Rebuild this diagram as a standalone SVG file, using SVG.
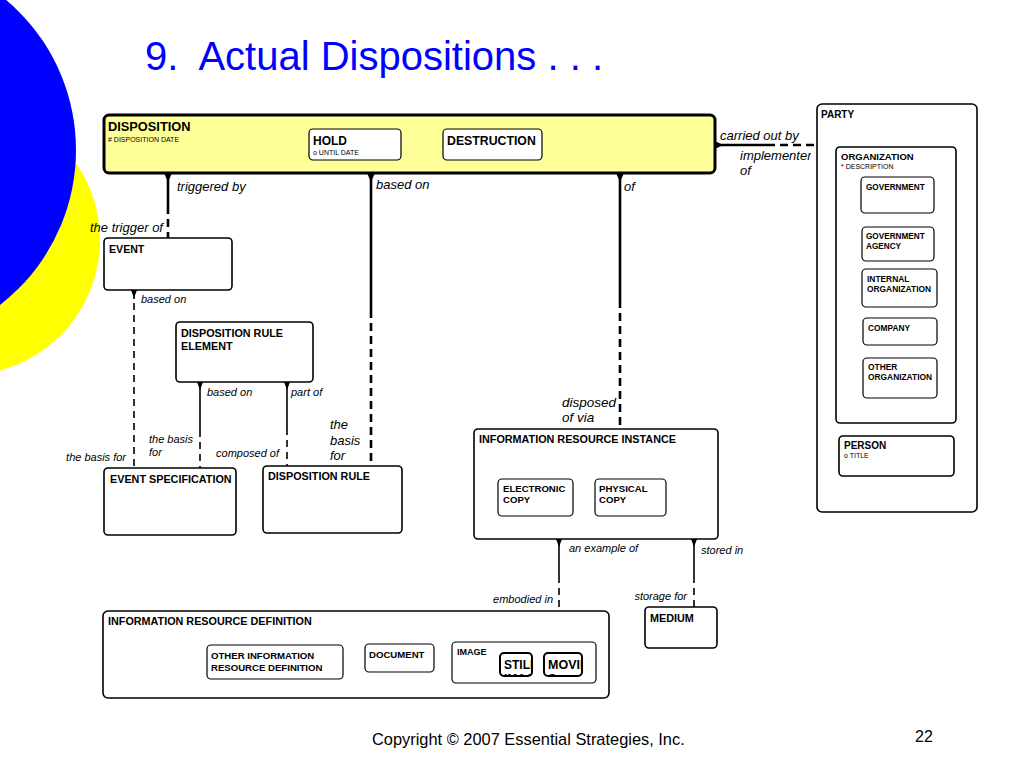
<svg xmlns="http://www.w3.org/2000/svg" width="1024" height="768" viewBox="0 0 1024 768">
<defs>
<style>
.ent{fill:#fff;stroke:#000;stroke-width:1.6}
.sub{fill:#fff;stroke:#000;stroke-width:1.2}
.b{font-family:"Liberation Sans",Arial,sans-serif;font-weight:bold;fill:#000}
.a{font-family:"Liberation Sans",Arial,sans-serif;fill:#000;font-size:7px}
.i{font-family:"Liberation Sans",Arial,sans-serif;font-style:italic;fill:#000}
.s{stroke:#000;fill:none}
.thk{stroke-width:2.6}
.thn{stroke-width:1.6}
.d1{stroke-dasharray:8 5}
.d2{stroke-dasharray:7 5}
.cf{fill:#000}
</style>
<clipPath id="cpStill"><rect x="501" y="654" width="30" height="21"/></clipPath>
<clipPath id="cpMovie"><rect x="545" y="654" width="36" height="21"/></clipPath>
<clipPath id="cpImpl"><rect x="730" y="148" width="81" height="40"/></clipPath>
</defs>
<rect width="1024" height="768" fill="#fff"/>
<!-- decoration -->
<circle cx="-35" cy="240" r="135" fill="#ffff00"/>
<circle cx="-120" cy="150" r="196" fill="#0000ff"/>
<text x="145" y="70" font-family="Liberation Sans,Arial,sans-serif" font-size="40" fill="#0000ff" xml:space="preserve">9.  Actual Dispositions . . .</text>

<!-- connectors -->
<g id="connectors">
<!-- disposition - party -->
<polygon class="cf" points="715,141 715,149 723,145"/>
<line class="s thk" x1="715" y1="145" x2="767" y2="145"/>
<line class="s thk d1" x1="767" y1="145" x2="817" y2="145"/>
<text class="i" x="720" y="140" font-size="13">carried out by</text>
<text class="i" x="740" y="160" font-size="13" clip-path="url(#cpImpl)">implementer</text>
<text class="i" x="740" y="175" font-size="13">of</text>
<!-- triggered by -->
<polygon class="cf" points="164,173 172,173 168,182"/>
<line class="s thk" x1="168" y1="173" x2="168" y2="206"/>
<line class="s thk d1" x1="168" y1="206" x2="168" y2="238"/>
<text class="i" x="177" y="191" font-size="13">triggered by</text>
<text class="i" x="163" y="232" font-size="13" text-anchor="end">the trigger of</text>
<!-- event based on event spec -->
<polygon class="cf" points="131,290 137,290 134,298"/>
<line class="s thn" x1="134" y1="290" x2="134" y2="299"/>
<line class="s thn d2" x1="134" y1="303" x2="134" y2="468"/>
<text class="i" x="141" y="303" font-size="11">based on</text>
<text class="i" x="126" y="461" font-size="11" text-anchor="end">the basis for</text>
<!-- DRE based on event spec -->
<polygon class="cf" points="197,382 203,382 200,390"/>
<line class="s thn" x1="200" y1="382" x2="200" y2="430"/>
<line class="s thn d2" x1="200" y1="430" x2="200" y2="468"/>
<text class="i" x="207" y="396" font-size="11">based on</text>
<text class="i" x="149" y="443" font-size="11">the basis</text>
<text class="i" x="149" y="456" font-size="11">for</text>
<!-- DRE part of disposition rule -->
<polygon class="cf" points="284,382 290,382 287,390"/>
<line class="s thn" x1="287" y1="382" x2="287" y2="428"/>
<line class="s thn d2" x1="287" y1="428" x2="287" y2="466"/>
<text class="i" x="291" y="396" font-size="11">part of</text>
<text class="i" x="279" y="457" font-size="11" text-anchor="end">composed of</text>
<!-- disposition based on disposition rule -->
<polygon class="cf" points="367,173 375,173 371,182"/>
<line class="s thk" x1="371" y1="173" x2="371" y2="310"/>
<line class="s thk d1" x1="371" y1="310" x2="371" y2="466"/>
<text class="i" x="376" y="189" font-size="13">based on</text>
<text class="i" x="330" y="429" font-size="13">the</text>
<text class="i" x="330" y="445" font-size="13">basis</text>
<text class="i" x="330" y="460" font-size="13">for</text>
<!-- disposition of IRI -->
<polygon class="cf" points="616,173 624,173 620,182"/>
<line class="s thk" x1="620" y1="173" x2="620" y2="300"/>
<line class="s thk d1" x1="620" y1="300" x2="620" y2="429"/>
<text class="i" x="624" y="191" font-size="13">of</text>
<text class="i" x="562" y="407" font-size="13.5">disposed</text>
<text class="i" x="562" y="422" font-size="13.5">of via</text>
<!-- IRI example of IRD -->
<polygon class="cf" points="556,539 562,539 559,547"/>
<line class="s thn" x1="559" y1="539" x2="559" y2="576"/>
<line class="s thn d2" x1="559" y1="576" x2="559" y2="611"/>
<text class="i" x="569" y="552" font-size="11">an example of</text>
<text class="i" x="553" y="603" font-size="11" text-anchor="end">embodied in</text>
<!-- IRI stored in medium -->
<polygon class="cf" points="691,539 697,539 694,547"/>
<line class="s thn" x1="694" y1="539" x2="694" y2="576"/>
<line class="s thn d2" x1="694" y1="576" x2="694" y2="607"/>
<text class="i" x="701" y="554" font-size="11">stored in</text>
<text class="i" x="687" y="600" font-size="11" text-anchor="end">storage for</text>
</g>

<!-- DISPOSITION -->
<g id="disposition">
<rect x="104" y="115" width="611" height="58" rx="5" fill="#ffff99" stroke="#000" stroke-width="3"/>
<text class="b" x="108" y="131" font-size="12.8">DISPOSITION</text>
<text class="a" x="108" y="142" font-size="6.5">#  DISPOSITION DATE</text>
</g>
<g id="hold">
<rect class="sub" x="309" y="129" width="92" height="31" rx="4"/>
<text class="b" x="313" y="145" font-size="12">HOLD</text>
<text class="a" x="313" y="155" font-size="6.5">o  UNTIL DATE</text>
</g>
<g id="destruction">
<rect class="sub" x="443" y="129" width="99" height="31" rx="4"/>
<text class="b" x="447" y="145" font-size="12.3">DESTRUCTION</text>
</g>

<!-- PARTY -->
<g id="party">
<rect class="ent" x="817" y="104" width="160" height="408" rx="5"/>
<text class="b" x="821" y="118" font-size="10">PARTY</text>
</g>
<g id="organization">
<rect class="ent" x="836" y="147" width="120" height="276" rx="4"/>
<text class="b" x="841" y="160" font-size="9.5">ORGANIZATION</text>
<text class="a" x="841" y="169" font-size="6.5">*  DESCRIPTION</text>
</g>
<g id="government">
<rect class="sub" x="861" y="177" width="73" height="36" rx="4"/>
<text class="b" x="866" y="190" font-size="8.2">GOVERNMENT</text>
</g>
<g id="government-agency">
<rect class="sub" x="862" y="227" width="72" height="34" rx="4"/>
<text class="b" x="866" y="239" font-size="8.2">GOVERNMENT</text>
<text class="b" x="866" y="249" font-size="8.2">AGENCY</text>
</g>
<g id="internal-organization">
<rect class="sub" x="862" y="269" width="75" height="38" rx="4"/>
<text class="b" x="867" y="282" font-size="8.4">INTERNAL</text>
<text class="b" x="867" y="292" font-size="8.4">ORGANIZATION</text>
</g>
<g id="company">
<rect class="sub" x="863" y="318" width="74" height="27" rx="4"/>
<text class="b" x="868" y="331" font-size="8.4">COMPANY</text>
</g>
<g id="other-organization">
<rect class="sub" x="863" y="358" width="74" height="40" rx="4"/>
<text class="b" x="868" y="370" font-size="8.4">OTHER</text>
<text class="b" x="868" y="380" font-size="8.4">ORGANIZATION</text>
</g>
<g id="person">
<rect class="ent" x="839" y="436" width="115" height="40" rx="4"/>
<text class="b" x="844" y="449" font-size="10">PERSON</text>
<text class="a" x="844" y="458" font-size="6.5">o  TITLE</text>
</g>

<!-- left side -->
<g id="event">
<rect class="ent" x="104" y="238" width="128" height="52" rx="4"/>
<text class="b" x="109" y="253" font-size="10.6">EVENT</text>
</g>
<g id="disposition-rule-element">
<rect class="ent" x="176" y="322" width="137" height="60" rx="4"/>
<text class="b" x="181" y="337" font-size="10.8">DISPOSITION RULE</text>
<text class="b" x="181" y="350" font-size="10.8">ELEMENT</text>
</g>
<g id="event-specification">
<rect class="ent" x="104" y="468" width="132" height="67" rx="4"/>
<text class="b" x="110" y="483" font-size="10.8">EVENT SPECIFICATION</text>
</g>
<g id="disposition-rule">
<rect class="ent" x="263" y="466" width="139" height="67" rx="4"/>
<text class="b" x="268" y="480" font-size="10.8">DISPOSITION RULE</text>
</g>

<!-- IRI -->
<g id="information-resource-instance">
<rect class="ent" x="474" y="429" width="244" height="110" rx="4"/>
<text class="b" x="479" y="443" font-size="10.8">INFORMATION RESOURCE INSTANCE</text>
</g>
<g id="electronic-copy">
<rect class="sub" x="498" y="479" width="75" height="37" rx="4"/>
<text class="b" x="503" y="492" font-size="9.6">ELECTRONIC</text>
<text class="b" x="503" y="503" font-size="9.6">COPY</text>
</g>
<g id="physical-copy">
<rect class="sub" x="595" y="479" width="71" height="37" rx="4"/>
<text class="b" x="599" y="492" font-size="9.6">PHYSICAL</text>
<text class="b" x="599" y="503" font-size="9.6">COPY</text>
</g>
<g id="medium">
<rect class="ent" x="645" y="607" width="72" height="41" rx="4"/>
<text class="b" x="650" y="622" font-size="10.8">MEDIUM</text>
</g>

<!-- IRD -->
<g id="information-resource-definition">
<rect class="ent" x="103" y="611" width="506" height="87" rx="5"/>
<text class="b" x="108" y="625" font-size="10.8">INFORMATION RESOURCE DEFINITION</text>
</g>
<g id="other-information-resource-definition">
<rect class="sub" x="207" y="645" width="136" height="34" rx="4"/>
<text class="b" x="211" y="659" font-size="9.6">OTHER INFORMATION</text>
<text class="b" x="211" y="671" font-size="9.6">RESOURCE DEFINITION</text>
</g>
<g id="document">
<rect class="sub" x="365" y="644" width="69" height="28" rx="4"/>
<text class="b" x="369" y="658" font-size="9.6">DOCUMENT</text>
</g>
<g id="image">
<rect class="sub" x="452" y="642" width="144" height="41" rx="4"/>
<text class="b" x="457" y="655" font-size="9">IMAGE</text>
</g>
<g id="still-image">
<rect x="500" y="653" width="32" height="23" rx="4" fill="#fff" stroke="#000" stroke-width="2"/>
<g clip-path="url(#cpStill)">
<text class="b" x="504" y="669" font-size="12">STILL</text>
<text class="b" x="504" y="683" font-size="12">IMAGE</text>
</g>
</g>
<g id="movie">
<rect x="544" y="653" width="38" height="23" rx="4" fill="#fff" stroke="#000" stroke-width="2"/>
<g clip-path="url(#cpMovie)">
<text class="b" x="548" y="669" font-size="12.5">MOVIE</text>
<text class="b" x="548" y="683" font-size="12.5">S</text>
</g>
</g>

<text x="372" y="745" font-family="Liberation Sans,Arial,sans-serif" font-size="16.4" fill="#000">Copyright © 2007 Essential Strategies, Inc.</text>
<text x="915" y="742" font-family="Liberation Sans,Arial,sans-serif" font-size="16" fill="#000">22</text>
</svg>
